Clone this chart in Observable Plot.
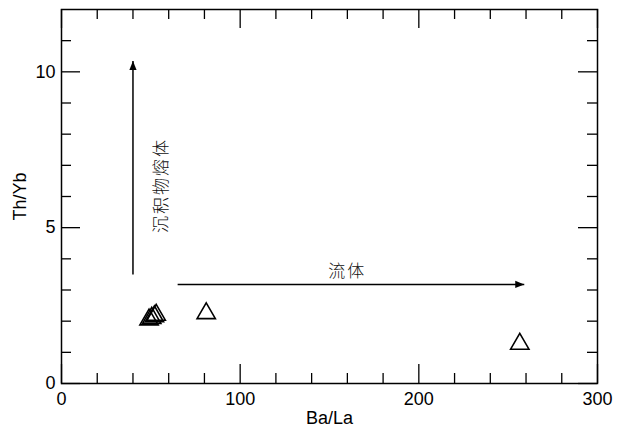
<!DOCTYPE html>
<html>
<head>
<meta charset="utf-8">
<script src="https://cdn.jsdelivr.net/npm/d3@7"></script>
<script src="https://cdn.jsdelivr.net/npm/@observablehq/plot@0.6"></script>
<style>
  html, body { margin: 0; padding: 0; background: #fff; }
</style>
</head>
<body>
<div id="chart"></div>
<script>
// Data
const baLa = [49, 50.5, 52, 53, 81, 256.5];
const thYb = [2.05, 2.1, 2.15, 2.2, 2.25, 1.27];

// Arrows (start -> end, data units)
const arrowX1 = [40, 65];
const arrowY1 = [3.5, 3.18];
const arrowX2 = [40, 259];
const arrowY2 = [10.35, 3.18];

// Annotations
const noteText = ["沉积物熔体", "流体"];
const noteX = [56, 160];
const noteY = [6.35, 3.6];
const noteRotate = [-90, 0];

// Tick values
const xMajor = [0, 100, 200, 300];
const xMinor = [20, 40, 60, 80, 120, 140, 160, 180, 220, 240, 260, 280];
const yMajor = [0, 5, 10];
const yMinor = [1, 2, 3, 4, 6, 7, 8, 9, 11];

const points = baLa.map((x, i) => ({x, y: thYb[i]}));
const arrows = arrowX1.map((x1, i) => ({x1, y1: arrowY1[i], x2: arrowX2[i], y2: arrowY2[i]}));
const notes = noteText.map((t, i) => ({t, x: noteX[i], y: noteY[i], r: noteRotate[i]}));

const W = 627, H = 429, mL = 61, mR = 30, mT = 9, mB = 46;
const pw = W - mL - mR, ph = H - mT - mB;
const majorLen = 19, minorLen = 10;

function filledArrow(color) {
  const m = d3.create("svg:marker")
    .attr("viewBox", "-10 -5 10 10")
    .attr("markerWidth", 11)
    .attr("markerHeight", 9)
    .attr("markerUnits", "userSpaceOnUse")
    .attr("orient", "auto")
    .attr("refX", 0)
    .attr("refY", 0);
  m.append("path").attr("d", "M-10,-4L0,0L-10,4Z").attr("fill", color).attr("stroke", "none");
  return m.node();
}

const tickStyle = {stroke: "black", strokeWidth: 1.3};

const chart = Plot.plot({
  width: W,
  height: H,
  marginLeft: mL,
  marginRight: mR,
  marginTop: mT,
  marginBottom: mB,
  style: {fontFamily: "'Liberation Sans', Arial, sans-serif", fontSize: "18px", color: "black", background: "white"},
  x: {domain: [0, 300]},
  y: {domain: [0, 12]},
  marks: [
    // ticks on four sides, pointing inward
    Plot.tickX(xMajor, {x: d => d, insetTop: ph - majorLen, ...tickStyle}),
    Plot.tickX(xMinor, {x: d => d, insetTop: ph - minorLen, ...tickStyle}),
    Plot.tickX(xMajor, {x: d => d, insetBottom: ph - majorLen, ...tickStyle}),
    Plot.tickX(xMinor, {x: d => d, insetBottom: ph - minorLen, ...tickStyle}),
    Plot.tickY(yMajor, {y: d => d, insetRight: pw - majorLen, ...tickStyle}),
    Plot.tickY(yMinor, {y: d => d, insetRight: pw - minorLen, ...tickStyle}),
    Plot.tickY(yMajor, {y: d => d, insetLeft: pw - majorLen, ...tickStyle}),
    Plot.tickY(yMinor, {y: d => d, insetLeft: pw - minorLen, ...tickStyle}),
    Plot.axisX({ticks: xMajor, tickSize: 0, tickPadding: 9, fontSize: 18,
      label: "Ba/La", labelAnchor: "center", labelOffset: 40, labelArrow: "none"}),
    Plot.axisY({ticks: yMajor, tickSize: 0, tickPadding: 6, fontSize: 18,
      label: "Th/Yb", labelAnchor: "center", labelOffset: 48, labelArrow: "none"}),
    Plot.frame({stroke: "black", strokeWidth: 1.5}),
    Plot.link(arrows, {x1: "x1", y1: "y1", x2: "x2", y2: "y2", stroke: "black", strokeWidth: 1.5, markerEnd: filledArrow}),
    Plot.text(notes, {x: "x", y: "y", text: "t", rotate: "r", fontSize: 17,
      fontFamily: "'Noto Sans CJK SC', sans-serif", fontWeight: 300, fill: "#111"}),
    Plot.dot(points, {x: "x", y: "y", symbol: "triangle", r: 6.8, stroke: "black", strokeWidth: 1.6, fill: "none"})
  ]
});

// widen the spacing of the Chinese annotation characters, as in the reference
d3.select(chart).selectAll("text").filter(function() { return /[\u4e00-\u9fff]/.test(this.textContent); })
  .style("letter-spacing", "2px");

document.getElementById("chart").append(chart);
</script>
</body>
</html>
